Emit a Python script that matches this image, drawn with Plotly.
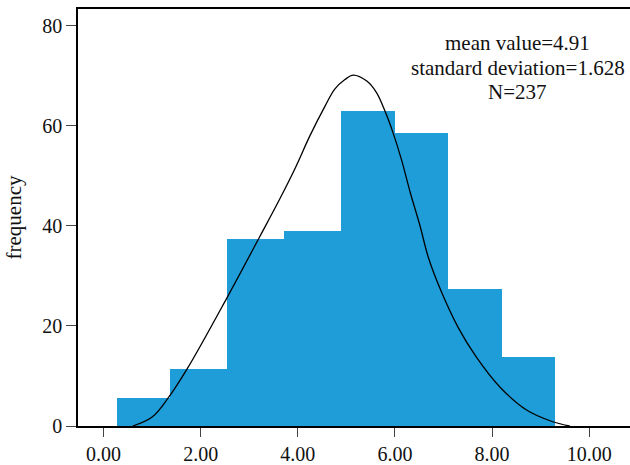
import plotly.graph_objects as go

# Histogram bins (edges) and frequencies
bin_edges = [0.28, 1.37, 2.54, 3.71, 4.89, 6.00, 7.09, 8.20, 9.29]
frequencies = [5.6, 11.4, 37.3, 38.9, 62.9, 58.6, 27.4, 13.7]

# Fitted curve points
curve_x = [0.60, 1.00, 1.33, 1.72, 2.54, 3.22, 3.63, 3.94, 4.25, 4.56,
           4.76, 4.97, 5.14, 5.42, 5.62, 5.79, 5.97, 6.14, 6.31, 6.51,
           6.69, 6.93, 7.30, 7.68, 8.16, 8.71, 9.25, 9.60]
curve_y = [0.0, 1.8, 5.6, 11.4, 25.6, 37.9, 45.4, 51.4, 58.0, 63.9,
           67.3, 69.2, 70.1, 68.9, 66.6, 63.0, 58.3, 53.0, 46.8, 40.2,
           33.6, 27.4, 19.7, 13.7, 7.8, 3.2, 0.85, 0.0]

x_ticks = [0, 2, 4, 6, 8, 10]
x_tick_labels = ["0.00", "2.00", "4.00", "6.00", "8.00", "10.00"]
y_ticks = [0, 20, 40, 60, 80]

stats_lines = ["mean value=4.91", "standard deviation=1.628", "N=237"]

centers = [(a + b) / 2 for a, b in zip(bin_edges[:-1], bin_edges[1:])]
widths = [b - a for a, b in zip(bin_edges[:-1], bin_edges[1:])]

FONT = "Liberation Serif"

fig = go.Figure()
fig.add_trace(go.Bar(x=centers, y=frequencies, width=widths,
                     marker=dict(color="#1E9DD8", line=dict(width=0)),
                     showlegend=False))
fig.add_trace(go.Scatter(x=curve_x, y=curve_y, mode="lines",
                         line=dict(color="black", width=1.3, shape="spline",
                                   smoothing=1.0),
                         showlegend=False))

for i, t in enumerate(stats_lines):
    fig.add_annotation(text=t, xref="paper", yref="paper",
                       x=(517.5 - 78) / 552, y=1 - (43 + 25 * i - 9) / 420,
                       xanchor="center", yanchor="middle", showarrow=False,
                       font=dict(family=FONT, size=21, color="#111"))

fig.update_layout(
    width=630, height=465,
    margin=dict(l=78, r=0, t=9, b=36),
    plot_bgcolor="white", paper_bgcolor="white",
    bargap=0,
    font=dict(family=FONT, size=20, color="#111"),
    xaxis=dict(range=[-0.527, 10.84], tickvals=x_ticks, ticktext=x_tick_labels,
               showgrid=False, zeroline=False, showline=True, linecolor="black",
               linewidth=1.5, mirror=True, ticks="outside", ticklen=9,
               tickcolor="#444", tickwidth=1.2,
               tickfont=dict(family=FONT, size=20, color="#111")),
    yaxis=dict(range=[0, 83.3], tickvals=y_ticks, showgrid=False, zeroline=False,
               showline=True, linecolor="black", linewidth=1.5,
               ticks="outside", ticklen=10, tickcolor="#444", tickwidth=1.2,
               tickfont=dict(family=FONT, size=20, color="#111"),
               title=dict(text="frequency", standoff=15,
                          font=dict(family=FONT, size=21, color="#111"))),
)

fig.write_html("out.html",
               config={"displayModeBar": False},
               post_script="document.body.style.margin='0';"
                           "document.body.style.overflow='hidden';")
